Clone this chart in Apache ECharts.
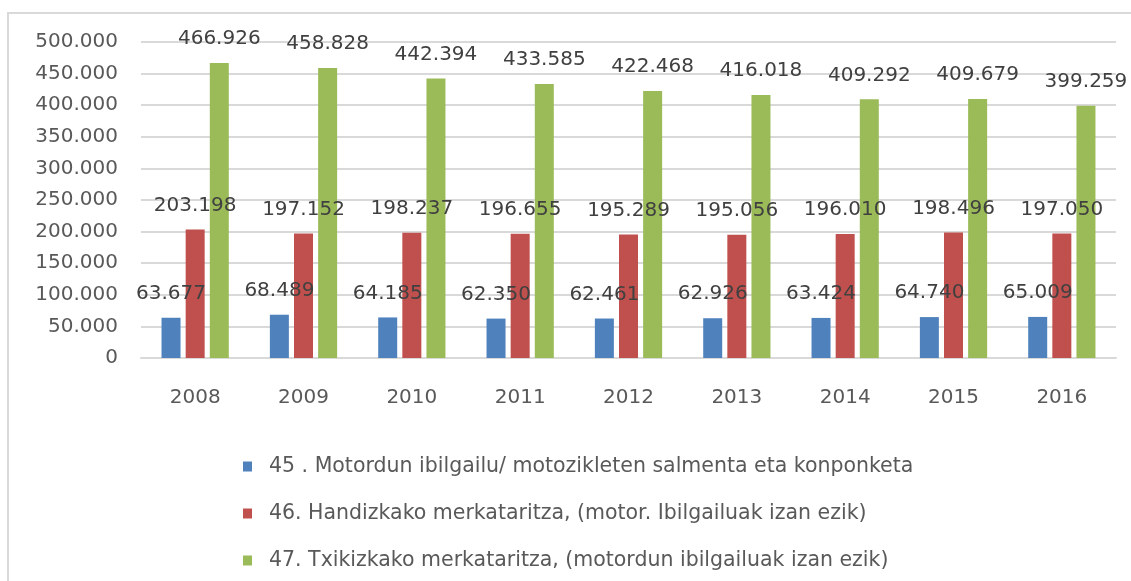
<!DOCTYPE html>
<html>
<head>
<meta charset="utf-8">
<script src="https://cdn.jsdelivr.net/npm/echarts@6/dist/echarts.min.js"></script>
<style>
  html, body { margin: 0; padding: 0; background: #fff; }
  #chart { width: 1131px; height: 581px; }
</style>
</head>
<body>
<div id="chart"></div>
<script>
const years = ['2008', '2009', '2010', '2011', '2012', '2013', '2014', '2015', '2016']
const seriesNames = [
  '45 . Motordun ibilgailu/ motozikleten salmenta eta konponketa',
  '46. Handizkako merkataritza, (motor. Ibilgailuak izan ezik)',
  '47. Txikizkako merkataritza, (motordun ibilgailuak izan ezik)'
]
const motor = [63677, 68489, 64185, 62350, 62461, 62926, 63424, 64740, 65009]
const handizkako = [203198, 197152, 198237, 196655, 195289, 195056, 196010, 198496, 197050]
const txikizkako = [466926, 458828, 442394, 433585, 422468, 416018, 409292, 409679, 399259]
const colors = ['#4F81BD', '#C0504D', '#9BBB59']

// 466926 -> "466.926"
const fmt = v => String(Math.round(v)).replace(/\B(?=(\d{3})+(?!\d))/g, '.')

const chart = echarts.init(document.getElementById('chart'))

const makeSeries = (name, data, color) => ({
  name,
  type: 'bar',
  data,
  barWidth: 19,
  barGap: '27%',
  itemStyle: { color },
  label: {
    show: true,
    position: 'top',
    distance: 14,
    formatter: p => fmt(p.value),
    fontFamily: 'DejaVu Sans',
    fontSize: 20,
    color: '#404040'
  }
})

chart.setOption({
  animation: false,
  backgroundColor: '#fff',
  // frame of the original chart box (only left and top edges are in view)
  graphic: [{
    type: 'polyline',
    shape: { points: [[8, 600], [8, 13], [1200, 13]] },
    style: { fill: null, stroke: '#d9d9d9', lineWidth: 2 },
    silent: true
  }],
  grid: { left: 141, right: 15, top: 42, bottom: 223 },
  legend: {
    orient: 'vertical',
    left: 238,
    top: 451,
    itemWidth: 9,
    itemHeight: 10,
    itemGap: 26,
    icon: 'rect',
    data: seriesNames,
    textStyle: {
      fontFamily: 'DejaVu Sans',
      fontSize: 20.5,
      color: '#595959',
      padding: [0, 0, 0, 12]
    }
  },
  xAxis: {
    type: 'category',
    data: years,
    axisLine: { lineStyle: { color: '#d9d9d9', width: 2 } },
    axisTick: { show: false },
    axisLabel: {
      margin: 30,
      fontFamily: 'DejaVu Sans',
      fontSize: 20,
      color: '#595959'
    }
  },
  yAxis: {
    type: 'value',
    min: 0,
    max: 500000,
    interval: 50000,
    axisLine: { show: false },
    axisTick: { show: false },
    splitLine: { lineStyle: { color: '#d9d9d9', width: 2 } },
    axisLabel: {
      margin: 23,
      formatter: v => fmt(v),
      fontFamily: 'DejaVu Sans',
      fontSize: 20,
      color: '#595959'
    }
  },
  series: [
    makeSeries(seriesNames[0], motor, colors[0]),
    makeSeries(seriesNames[1], handizkako, colors[1]),
    makeSeries(seriesNames[2], txikizkako, colors[2])
  ]
})
</script>
</body>
</html>
